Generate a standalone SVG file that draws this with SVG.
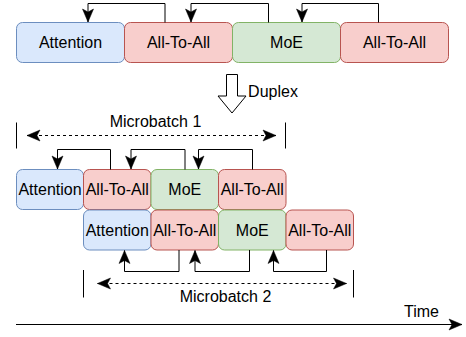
<svg xmlns="http://www.w3.org/2000/svg" width="466" height="337" viewBox="0 0 466 337">
<style>
text{font-family:"Liberation Sans",Arial,sans-serif;font-size:16px;fill:#000;text-anchor:middle}
.blue{fill:#dae8fc;stroke:#6c8ebf;stroke-width:1}
.red{fill:#f8cecc;stroke:#b85450;stroke-width:1}
.green{fill:#d5e8d4;stroke:#82b366;stroke-width:1}
.ln{fill:none;stroke:#000;stroke-width:1}
.dash{fill:none;stroke:#000;stroke-width:1;stroke-dasharray:3 3}
</style>
<defs>
<marker id="ah" markerUnits="userSpaceOnUse" markerWidth="14" markerHeight="12" viewBox="0 0 14 12" refX="13" refY="6" orient="auto" overflow="visible">
<path d="M0,0.5 L13,6 L0,11.5 L3,6 Z" fill="#000" stroke="#000" stroke-width="0.5"/>
</marker>
<marker id="ahs" markerUnits="userSpaceOnUse" markerWidth="14" markerHeight="12" viewBox="0 0 14 12" refX="1" refY="6" orient="auto" overflow="visible">
<path d="M14,0.5 L1,6 L14,11.5 L11,6 Z" fill="#000" stroke="#000" stroke-width="0.5"/>
</marker>
</defs>
<g id="top-attention"><rect class="blue" x="16.5" y="22.5" width="108" height="40" rx="6"/><text x="70.5" y="48">Attention</text></g>
<g id="top-a2a-1"><rect class="red" x="124.5" y="22.5" width="108" height="40" rx="6"/><text x="178.5" y="48">All-To-All</text></g>
<g id="top-moe"><rect class="green" x="232.5" y="22.5" width="108" height="40" rx="6"/><text x="286.5" y="48">MoE</text></g>
<g id="top-a2a-2"><rect class="red" x="340.5" y="22.5" width="108" height="40" rx="6"/><text x="394.5" y="48">All-To-All</text></g>
<g id="duplex"><path class="ln" d="M226.5,74.5 H237.5 V96 H246 L232,113 L218,96 H226.5 Z" fill="#fff"/><text x="273" y="97">Duplex</text></g>
<g id="mb1-label"><text x="155.5" y="127">Microbatch 1</text></g>
<g id="r1-attention"><rect class="blue" x="16.5" y="169.5" width="67" height="40" rx="6"/><text x="50" y="195">Attention</text></g>
<g id="r1-a2a-1"><rect class="red" x="83.5" y="169.5" width="67.5" height="40" rx="6"/><text x="117.25" y="195">All-To-All</text></g>
<g id="r1-moe"><rect class="green" x="151" y="169.5" width="67.5" height="40" rx="6"/><text x="184.75" y="195">MoE</text></g>
<g id="r1-a2a-2"><rect class="red" x="218.5" y="169.5" width="67.5" height="40" rx="6"/><text x="252.25" y="195">All-To-All</text></g>
<g id="r2-attention"><rect class="blue" x="83.5" y="210" width="67.5" height="40" rx="6"/><text x="117.25" y="235.5">Attention</text></g>
<g id="r2-a2a-1"><rect class="red" x="151" y="210" width="67.5" height="40" rx="6"/><text x="184.75" y="235.5">All-To-All</text></g>
<g id="r2-moe"><rect class="green" x="218.5" y="210" width="67.5" height="40" rx="6"/><text x="252.25" y="235.5">MoE</text></g>
<g id="r2-a2a-2"><rect class="red" x="286" y="210" width="67.5" height="40" rx="6"/><text x="319.75" y="235.5">All-To-All</text></g>
<g id="mb2-label"><text x="225.5" y="302">Microbatch 2</text></g>
<g id="time-label"><text x="421.5" y="317">Time</text></g>
<g id="connectors">
<path class="ln" d="M165,22.5 V3.5 H88 V22" marker-end="url(#ah)"/>
<path class="ln" d="M268.5,22.5 V3.5 H191 V22" marker-end="url(#ah)"/>
<path class="ln" d="M378.5,22.5 V3.5 H302 V22" marker-end="url(#ah)"/>
<path class="ln" d="M110.5,169.5 V149.5 H57.5 V169" marker-end="url(#ah)"/>
<path class="ln" d="M185,169.5 V149.5 H131 V169" marker-end="url(#ah)"/>
<path class="ln" d="M252.5,169.5 V149.5 H198.5 V169" marker-end="url(#ah)"/>
<path class="ln" d="M179,250 V271.5 H124.5 V250.5" marker-end="url(#ah)"/>
<path class="ln" d="M249.5,250 V271.5 H195 V250.5" marker-end="url(#ah)"/>
<path class="ln" d="M326.5,250 V271.5 H273.5 V250.5" marker-end="url(#ah)"/>
<path class="ln" d="M16.5,122.5 V148.5 M285.5,122.5 V148.5"/>
<path class="dash" d="M27,135.5 H276" marker-start="url(#ahs)" marker-end="url(#ah)"/>
<path class="ln" d="M83.5,270 V297.5 M353.5,270 V297.5"/>
<path class="dash" d="M97.5,283.5 H346.5" marker-start="url(#ahs)" marker-end="url(#ah)"/>
<path class="ln" d="M16,324.5 H462" marker-end="url(#ah)"/>
</g>
</svg>
